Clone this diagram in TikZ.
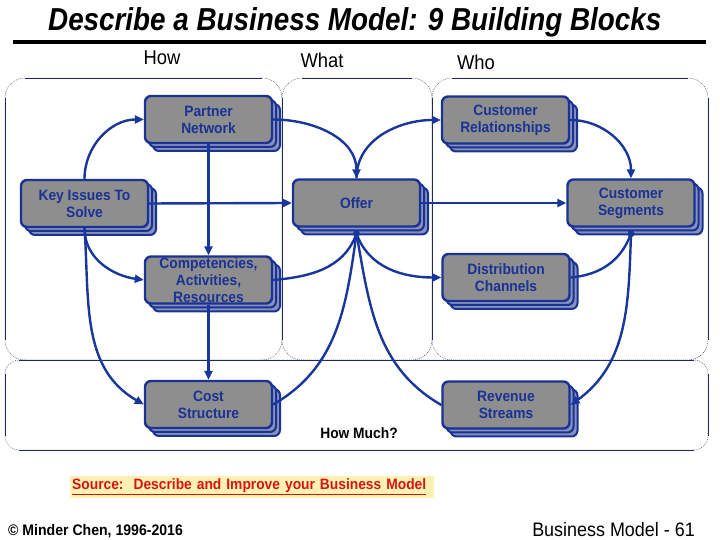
\documentclass[tikz,border=0pt]{standalone}
\usepackage{fontspec}
\setmainfont[FakeStretch=0.92]{Liberation Sans}
\usetikzlibrary{arrows.meta,shadows}
\definecolor{boxfill}{RGB}{142,142,142}
\definecolor{boxblue}{RGB}{25,50,150}
\definecolor{shfill}{RGB}{135,145,185}
\definecolor{conncol}{RGB}{25,55,155}
\definecolor{panelcol}{RGB}{30,40,100}
\definecolor{srcbg}{RGB}{255,241,180}
\definecolor{srcred}{RGB}{215,20,20}
\newcommand\panelbox[5]{%
  \draw[pcorner, rounded corners=#5pt] (#1,#2) rectangle (#3,#4);
  \draw[pline] (#1+#5,#4) -- (#3-#5,#4);
  \draw[pline] (#1+#5,#2) -- (#3-#5,#2);
  \draw[pline] (#1,#2+#5) -- (#1,#4-#5);
  \draw[pline] (#3,#2+#5) -- (#3,#4-#5);}
\begin{document}
\begin{tikzpicture}[x=1pt,y=1pt,
  blk/.style={draw=boxblue, line width=2.4pt, fill=boxfill, rounded corners=6pt,
    minimum width=127pt, minimum height=47pt, inner sep=0pt, align=center,
    text=boxblue, font=\fontsize{15}{17}\selectfont\bfseries,
    copy shadow={shadow xshift=8pt,shadow yshift=-8pt,fill=shfill,draw=boxblue,line width=2pt},
    copy shadow={shadow xshift=4pt,shadow yshift=-4pt,fill=shfill,draw=boxblue,line width=2pt}},
  conn/.style={draw=conncol, line width=2.4pt},
  arr/.style={conn, -{Triangle[length=9pt,width=8pt]}},
  pcorner/.style={draw=black!75, line width=0.4pt, dash pattern=on 1pt off 1pt},
  pline/.style={draw=panelcol, line width=0.8pt},
  hdr/.style={font=\fontsize{20}{24}\selectfont, inner sep=0pt},
]
\useasboundingbox (0,0) rectangle (720,540);
% panels
\panelbox{5}{180}{282}{462}{20}
\panelbox{282}{180}{432}{462}{20}
\panelbox{432}{180}{708}{462}{20}
\panelbox{5}{90}{708}{180}{14}
% title
\node[anchor=base west, inner sep=0pt] (title) at (48,509)
  {\resizebox{613pt}{23pt}{\bfseries\itshape Describe a Business Model: 9 Building Blocks}};
\draw[line width=4pt] (13,498) -- (706,498);
\node[hdr] (how) at (162,482) {How};
\node[hdr] (what) at (322,480) {What};
\node[hdr] (who) at (476,478) {Who};
% blocks
\node[blk] (pn) at (208.5,420.5) {Partner\\Network};
\node[blk] (cr) at (505.5,420) {Customer\\Relationships};
\node[blk] (ki) at (84.5,336.5) {Key Issues To\\Solve};
\node[blk] (offer) at (356.5,337) {Offer};
\node[blk] (cs) at (631,337) {Customer\\Segments};
\node[blk] (comp) at (208.5,260) {Competencies,\\Activities,\\Resources};
\node[blk] (dc) at (506,262.5) {Distribution\\Channels};
\node[blk] (cost) at (208.5,135.5) {Cost\\Structure};
\node[blk] (rs) at (506,135) {Revenue\\Streams};
% connectors
\draw[arr] (ki.north) to[out=90,in=180] (pn.west);
\draw[arr] (ki.east) -- (offer.west);
\draw[arr] (ki.south) to[out=-90,in=172] (comp.west);
\draw[arr] (ki.south) to[out=-86,in=150] (cost.west);
\draw[arr] (pn.south) -- (comp.north);
\draw[arr] (comp.south) -- (cost.north);
\draw[arr] (pn.east) to[out=0,in=90] (offer.north);
\draw[arr] (offer.north) to[out=90,in=180] (cr.west);
\draw[arr] (cr.east) to[out=0,in=90] (cs.north);
\draw[arr] (offer.east) -- (cs.west);
\coordinate (od) at ([yshift=-6pt]offer.south);
\coordinate (csd) at ([yshift=-6pt]cs.south);
\draw[conn] (od) to[out=250,in=5] (comp.east);
\draw[arr] (od) to[out=-70,in=180] (dc.west);
\draw[conn] (od) to[out=262,in=30] (cost.east);
\draw[conn] (od) to[out=-80,in=150] (rs.west);
\draw[conn] (csd) to[out=250,in=5] (dc.east);
\draw[arr] (csd) to[out=268,in=36] (rs.east);
\fill[conncol] (od) circle (3.5pt);
\fill[conncol] (csd) circle (3.5pt);
% texts
\node[font=\fontsize{15}{18}\selectfont\bfseries, inner sep=0pt] (hm) at (359,106.5) {How Much?};
\node[fill=srcbg, anchor=west, text width=360pt, align=left, inner xsep=2pt, minimum height=19pt,
  text=srcred, font=\fontsize{15}{17}\selectfont\bfseries] (src) at (70,53)
  {\underline{Source:\ \ Describe and Improve your Business Model}};
\node[anchor=base west, inner sep=0pt, font=\fontsize{15.3}{18}\selectfont\bfseries] (copy) at (8,4.5)
  {© Minder Chen, 1996-2016};
\node[anchor=base east, inner sep=0pt, font=\fontsize{19.5}{22}\selectfont] (pg) at (695,3.5)
  {Business Model - 61};
\end{tikzpicture}
\end{document}
